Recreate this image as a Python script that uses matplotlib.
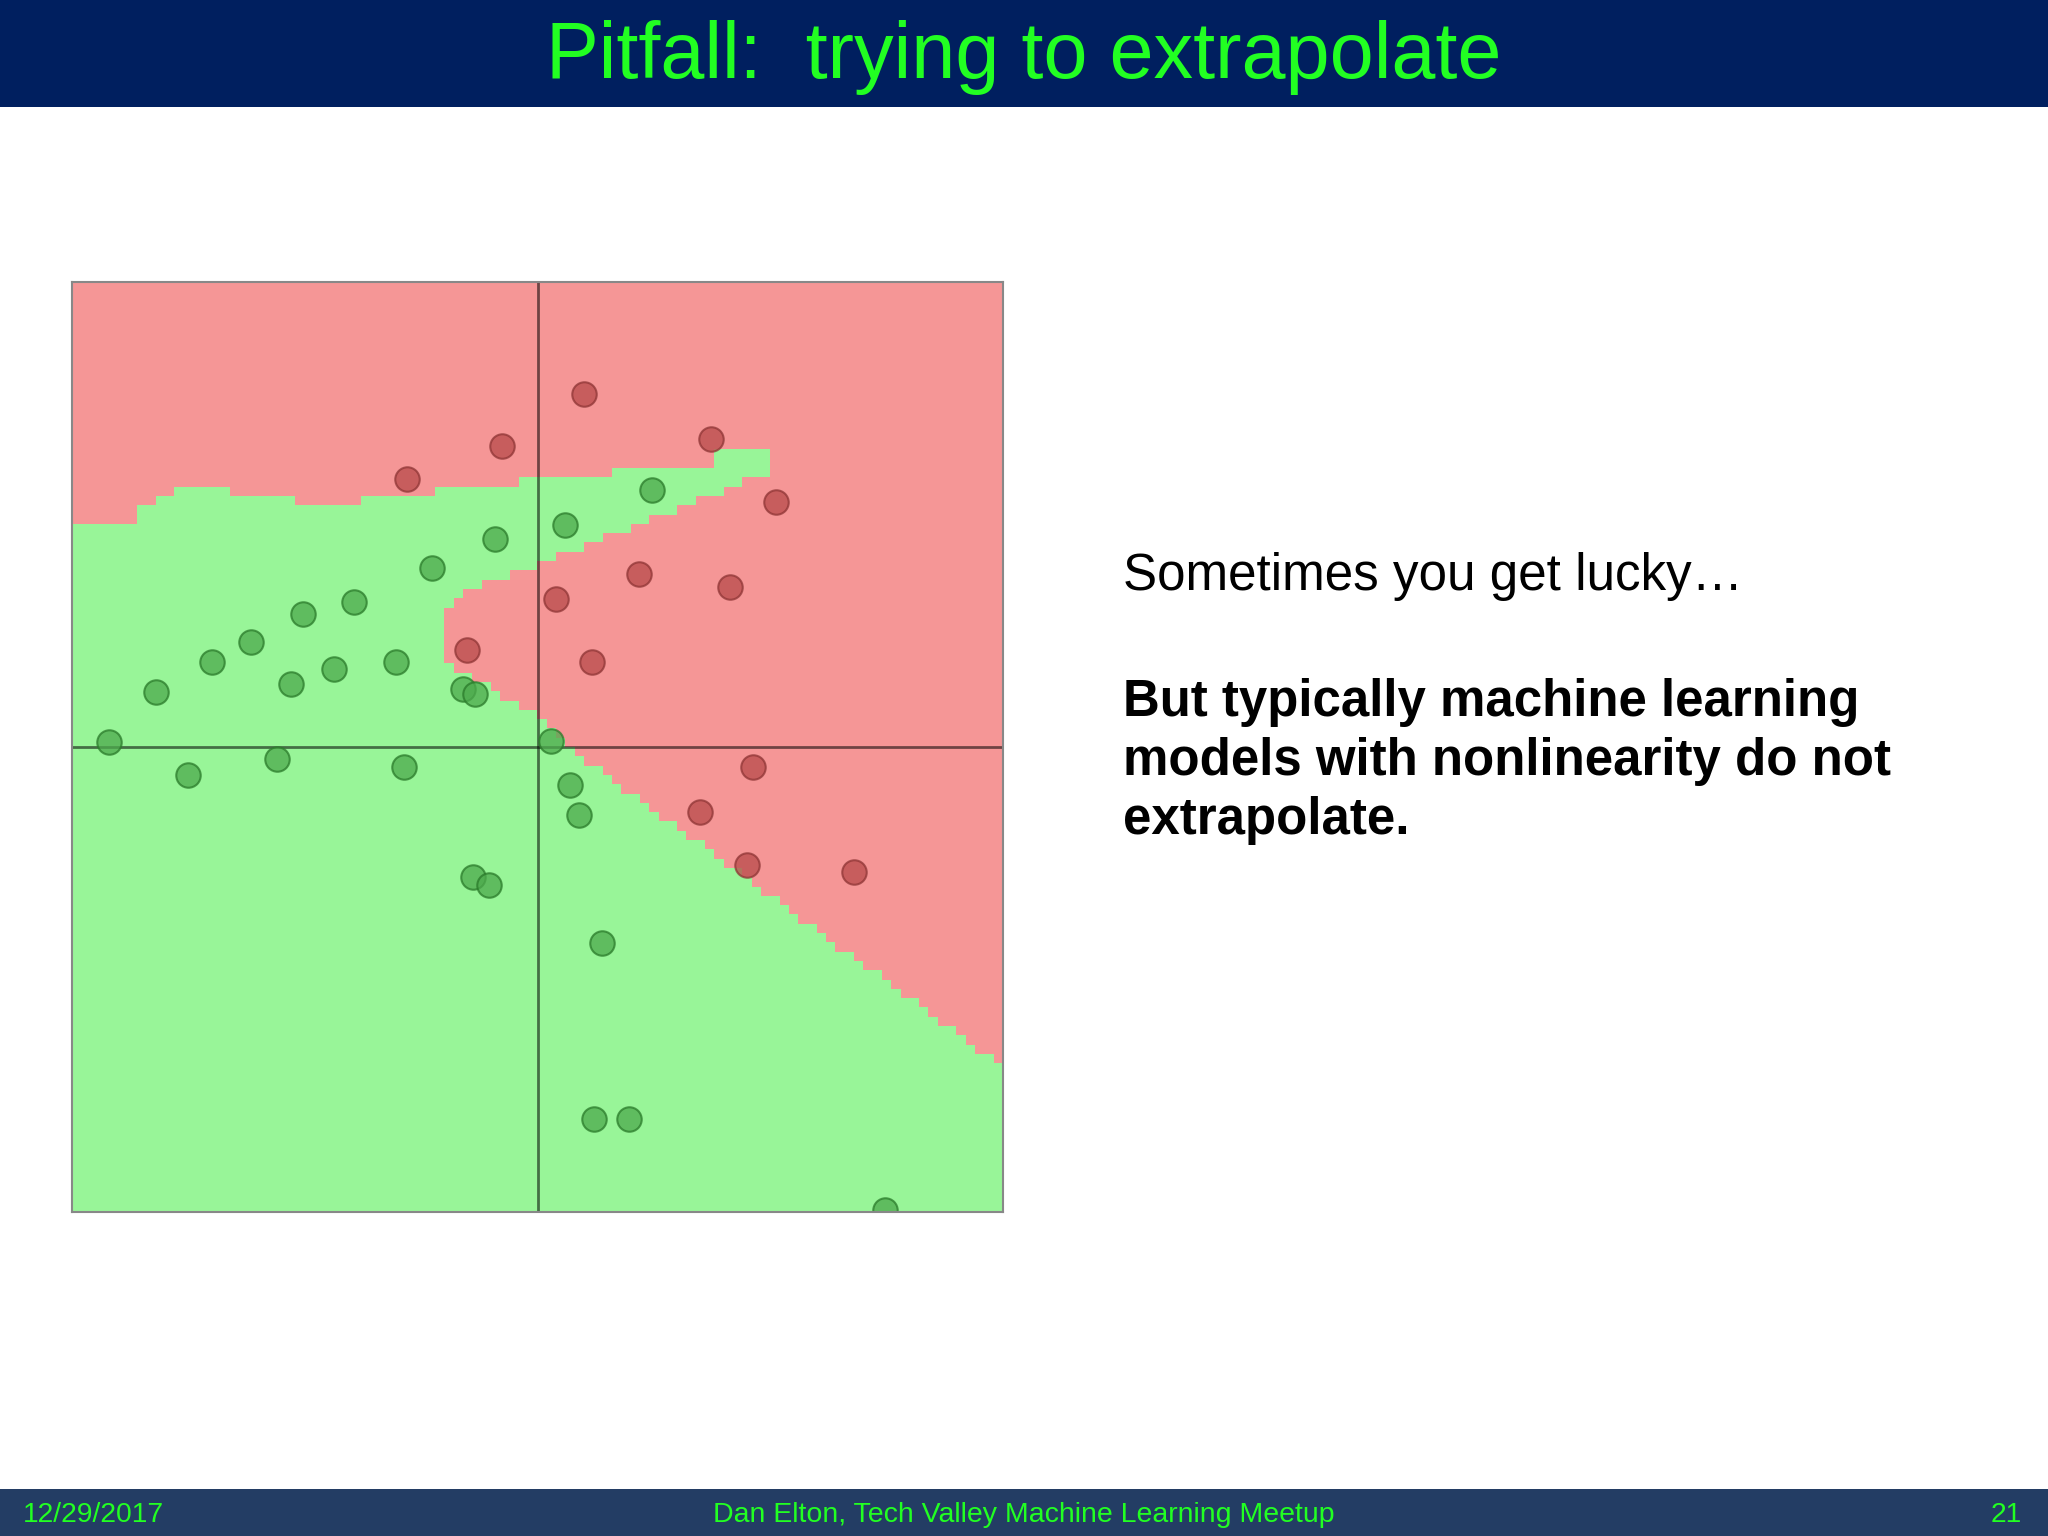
import numpy as np
import matplotlib.pyplot as plt
from matplotlib.path import Path
from matplotlib.colors import ListedColormap
from matplotlib.patches import Rectangle

# --- data (axes run -1..1 in both directions) ---
green_x = [-0.920, -0.820, -0.750, -0.700, -0.616, -0.559, -0.530, -0.504, -0.438, -0.395,
           -0.305, -0.287, -0.226, -0.161, -0.134, -0.091, -0.138, -0.105, 0.030, 0.059,
           0.070, 0.089, 0.138, 0.122, 0.197, 0.247, 0.747]
green_y = [0.010, 0.118, -0.061, 0.183, 0.226, -0.025, 0.136, 0.287, 0.168, 0.312,
           0.183, -0.044, 0.384, 0.125, 0.115, 0.448, -0.280, -0.297, 0.012, 0.477,
           -0.082, -0.147, -0.421, -0.799, -0.799, 0.552, -0.996]

red_x = [0.099, -0.076, -0.280, 0.372, 0.513, 0.218, 0.413, 0.039, -0.151, 0.118,
         0.463, 0.350, 0.450, 0.679]
red_y = [0.760, 0.647, 0.577, 0.663, 0.527, 0.373, 0.344, 0.319, 0.208, 0.183,
         -0.044, -0.140, -0.254, -0.269]

# outline of the green (predicted "good") region
boundary_x = [-1.0, -1.0, -0.870, -0.870, -0.818, -0.818, -0.790, -0.790, -0.668, -0.668,
              -0.518, -0.518, -0.389, -0.389, -0.217, -0.217, -0.039, -0.039, 0.158, 0.158,
              0.382, 0.382, 0.500, 0.500, 0.000, -0.170, -0.190, -0.190, -0.150, 0.000,
              0.066, 1.000, 1.000]
boundary_y = [-1.0, 0.488, 0.488, 0.514, 0.514, 0.535, 0.535, 0.563, 0.563, 0.540,
              0.540, 0.516, 0.516, 0.534, 0.534, 0.563, 0.563, 0.585, 0.585, 0.608,
              0.608, 0.635, 0.635, 0.592, 0.390, 0.330, 0.300, 0.180, 0.155, 0.065,
              0.000, -0.688, -1.0]

n_cells = 100

navy = '#001f5f'
footer_col = '#233d64'
lime = '#22ff22'

fig = plt.figure(figsize=(20.48, 15.36), dpi=100)
fig.patch.set_facecolor('white')

# header / footer bands
fig.patches.append(Rectangle((0, 1 - 107/1536), 1, 107/1536, transform=fig.transFigure,
                             facecolor=navy, edgecolor='none', zorder=0))
fig.patches.append(Rectangle((0, 0), 1, 47/1536, transform=fig.transFigure,
                             facecolor=footer_col, edgecolor='none', zorder=0))

fig.text(0.5, 1 - 78/1536, 'Pitfall:  trying to extrapolate', ha='center', va='baseline',
         color=lime, fontsize=57, family='Liberation Sans')
fig.text(23/2048, 21/1536, '12/29/2017', ha='left', va='center',
         color=lime, fontsize=20.3, family='Liberation Sans')
fig.text(1024/2048, 21/1536, 'Dan Elton, Tech Valley Machine Learning Meetup', ha='center',
         va='center', color=lime, fontsize=20.5, family='Liberation Sans')
fig.text(2022/2048, 21/1536, '21', ha='right', va='center',
         color=lime, fontsize=20.3, family='Liberation Sans')

# right-hand text
fig.text(1123/2048, 1 - 590/1536, 'Sometimes you get lucky…', ha='left', va='baseline',
         fontsize=36.8, family='Liberation Sans', color='black')
bold_lines = ['But typically machine learning', 'models with nonlinearity do not', 'extrapolate.']
for i, line in enumerate(bold_lines):
    fig.text(1123/2048, 1 - (716 + 59*i)/1536, line, ha='left', va='baseline',
             fontsize=36.7, family='Liberation Sans', weight='bold', color='black')

# decision-boundary plot
ax = fig.add_axes([72/2048, 1 - 1212/1536, 931/2048, 930/1536])
edges = np.linspace(-1, 1, n_cells + 1)
centers = (edges[:-1] + edges[1:]) / 2
gx, gy = np.meshgrid(centers, centers)
region = Path(np.column_stack([boundary_x, boundary_y]))
inside = region.contains_points(np.column_stack([gx.ravel(), gy.ravel()])).reshape(gx.shape)
ax.imshow(inside.astype(int), origin='lower', extent=[-1, 1, -1, 1], interpolation='nearest',
          cmap=ListedColormap(['#f59696', '#98f598']), aspect='auto', zorder=0)

ax.axhline(0, color='black', alpha=0.55, lw=2, zorder=1)
ax.axvline(0, color='black', alpha=0.55, lw=2, zorder=1)

ax.scatter(green_x, green_y, s=310, c='#4daa4d', alpha=0.75, edgecolors='#2a7a2a',
           linewidths=1.5, zorder=2)
ax.scatter(red_x, red_y, s=310, c='#b84a4a', alpha=0.75, edgecolors='#8e3535',
           linewidths=1.5, zorder=2)

ax.set_xlim(-1, 1)
ax.set_ylim(-1, 1)
ax.set_xticks([])
ax.set_yticks([])
for sp in ax.spines.values():
    sp.set_color('#888888')
    sp.set_linewidth(1.5)

fig.savefig('out.png', dpi=100)
